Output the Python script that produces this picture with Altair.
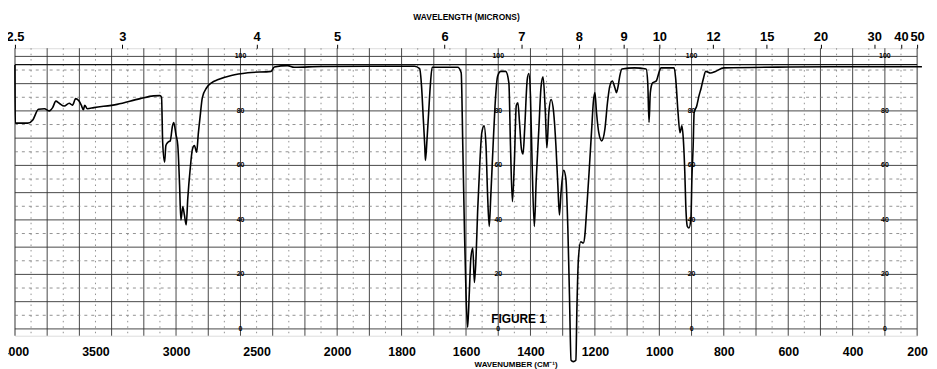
import altair as alt
import pandas as pd

# ---- data ----
wavenumber = [4000, 3998, 3920, 3889, 3854, 3817, 3786, 3766, 3746, 3725, 3694, 3663, 3643, 3623,
              3602, 3588, 3575, 3567, 3551, 3510, 3366, 3223, 3140, 3100, 3090, 3083, 3071, 3063,
              3050, 3036, 3022, 3014, 3001, 2989, 2978, 2970, 2958, 2948, 2937, 2927, 2912, 2898,
              2886, 2872, 2862, 2851, 2837, 2810, 2780, 2738, 2657, 2554, 2410, 2390, 2308, 2267,
              2100, 1900, 1760, 1744, 1738, 1733, 1728, 1726, 1721, 1716, 1711, 1705, 1626, 1615,
              1610, 1605, 1600, 1595, 1590, 1585, 1579, 1574, 1569, 1564, 1557, 1551, 1544, 1538,
              1533, 1528, 1523, 1516, 1510, 1502, 1492, 1477, 1467, 1462, 1456, 1450, 1444, 1439,
              1434, 1428, 1423, 1418, 1410, 1405, 1400, 1395, 1388, 1382, 1374, 1367, 1361, 1354,
              1349, 1343, 1336, 1328, 1321, 1315, 1310, 1305, 1297, 1290, 1284, 1279, 1274, 1267,
              1259, 1256, 1251, 1244, 1236, 1231, 1226, 1218, 1210, 1205, 1200, 1195, 1188, 1179,
              1169, 1161, 1154, 1146, 1138, 1133, 1128, 1123, 1116, 1077, 1041, 1036, 1032, 1028,
              1021, 1010, 1000, 995, 954, 949, 942, 936, 930, 925, 921, 918, 913, 908, 902, 899,
              895, 892, 884, 877, 870, 864, 856, 841, 826, 800, 600, 400, 185]
transmittance = [96.8, 75.5, 75.5, 76.7, 80.6, 80.8, 80.0, 81.2, 83.6, 82.8, 81.8, 82.8, 82.1, 84.5,
                 83.6, 82.1, 80.4, 82.1, 80.8, 81.2, 82.4, 84.5, 85.5, 85.6, 85.0, 68.5, 61.2, 67.3,
                 68.5, 69.0, 74.5, 75.7, 71.5, 67.3, 52.7, 40.0, 44.8, 41.8, 38.2, 48.0, 58.8, 66.0,
                 67.3, 64.8, 71.5, 77.6, 84.8, 88.5, 90.3, 91.5, 93.0, 94.0, 94.5, 96.1, 96.6, 96.0,
                 96.3, 96.4, 96.4, 95.5, 89.0, 78.0, 67.0, 61.8, 69.7, 79.4, 89.0, 96.0, 96.0, 94.0,
                 67.0, 37.0, 12.7, 0.6, 12.7, 26.0, 29.7, 17.0, 26.0, 43.0, 61.2, 72.0, 74.5, 67.3,
                 49.0, 37.6, 49.0, 67.3, 81.8, 92.7, 94.5, 94.5, 90.3, 67.3, 46.7, 61.0, 82.0, 83.0,
                 75.8, 66.0, 64.2, 73.3, 91.5, 93.7, 85.5, 61.2, 37.6, 55.0, 73.3, 89.0, 92.5, 80.0,
                 66.5, 79.4, 84.2, 79.4, 67.3, 52.7, 41.8, 50.3, 58.2, 55.0, 37.0, 12.7, -11.5, -12.0,
                 -11.5, 6.7, 26.0, 32.0, 31.5, 34.5, 43.0, 57.6, 73.3, 83.0, 86.7, 79.4, 72.0, 69.0,
                 73.3, 83.0, 89.0, 91.0, 88.5, 86.7, 89.0, 92.7, 95.4, 95.8, 95.4, 90.3, 75.8, 86.7,
                 90.3, 90.9, 94.5, 95.8, 95.8, 91.5, 79.4, 72.0, 74.5, 68.5, 57.6, 45.5, 37.6, 37.0, 40.6, 55.0,
                 67.3, 79.4, 81.8, 85.5, 88.5, 91.5, 94.5, 93.9, 94.5, 95.8, 96.1, 96.2, 96.2]

wn_tick_values = [4000, 3500, 3000, 2500, 2000, 1800, 1600, 1400, 1200, 1000, 800, 600, 400, 200]
micron_labels = [2.5, 3, 4, 5, 6, 7, 8, 9, 10, 12, 15, 20, 30, 40, 50]
pct_labels = [0, 20, 40, 60, 80, 100]
pct_label_columns = [2600, 1500, 900, 300]
figure_text = ["FIGURE 1"]
figure_wn = [1437]
figure_pct = [3.5]
reference_line_pct = [97]

# chart-paper grid (4000-2000 at half scale, 2000-200 full scale)
grid_v_solid = list(range(4000, 1999, -200)) + list(range(1900, 199, -100))
grid_v_dotted = list(range(3900, 2000, -200)) + list(range(1950, 200, -100))
grid_h_solid = list(range(0, 101, 10))
grid_h_dotted = list(range(5, 100, 10))

W, H = 910, 290
FONT = "Liberation Sans Narrow, Liberation Sans, sans-serif"

xscale = alt.Scale(domain=[4000, 2000, 200], range=[0, W * 1000 / 2800, W], nice=False, zero=False)
yscale = alt.Scale(domain=[-2.5, 103], nice=False, zero=False)

spec_df = pd.DataFrame({"wn": wavenumber, "t": transmittance, "i": range(len(wavenumber))})
micron_df = pd.DataFrame({"wn": [10000.0 / m for m in micron_labels]})
lab_df = pd.DataFrame([{"wn": c, "p": p, "txt": str(p)} for c in pct_label_columns for p in pct_labels])
fig_df = pd.DataFrame({"wn": figure_wn, "p": figure_pct, "txt": figure_text})

def vrules(vals, **kw):
    return alt.Chart(pd.DataFrame({"wn": vals})).mark_rule(**kw).encode(
        x=alt.X("wn:Q", scale=xscale, axis=None), y=alt.value(0), y2=alt.value(H))

def hrules(vals, **kw):
    return alt.Chart(pd.DataFrame({"p": vals})).mark_rule(**kw).encode(
        y=alt.Y("p:Q", scale=yscale, axis=None), x=alt.value(0), x2=alt.value(W))

gv_dot = vrules(grid_v_dotted, color="#777", strokeWidth=0.8, strokeDash=[1.5, 4])
gv_sol = vrules(grid_v_solid, color="#333", strokeWidth=0.9)
gh_dot = hrules(grid_h_dotted, color="#777", strokeWidth=0.8, strokeDash=[3, 4])
gh_sol = hrules(grid_h_solid, color="#333", strokeWidth=0.9)
ref_line = hrules(reference_line_pct, color="#111", strokeWidth=1.4)

inner_labels = alt.Chart(lab_df).mark_text(fontSize=7, font="Liberation Sans", fontWeight="bold",
                                           color="black").encode(
    x=alt.X("wn:Q", scale=xscale, axis=None),
    y=alt.Y("p:Q", scale=yscale, axis=None),
    text="txt:N")

fig_label = alt.Chart(fig_df).mark_text(fontSize=12, font="Liberation Sans", fontWeight="bold",
                                        color="black").encode(
    x=alt.X("wn:Q", scale=xscale, axis=None),
    y=alt.Y("p:Q", scale=yscale, axis=None),
    text="txt:N")

spectrum = alt.Chart(spec_df).mark_line(color="black", strokeWidth=1.6, interpolate="monotone",
                                        clip=False).encode(
    x=alt.X("wn:Q", scale=xscale,
            axis=alt.Axis(orient="bottom", values=wn_tick_values, format="d", labelFlush=False,
                          labelOverlap=False, labelBound=False, domain=False, ticks=False, tickSize=0,
                          grid=False, labelPadding=20, labelBaseline="alphabetic", labelFont=FONT,
                          labelFontSize=12.5, labelFontWeight="bold", labelColor="black",
                          title="WAVENUMBER (CM⁻¹)", titleFont="Liberation Sans", titleFontSize=8,
                          titleFontWeight="bold", titleColor="black", titleX=505, titleY=31,
                          titleBaseline="alphabetic")),
    y=alt.Y("t:Q", scale=yscale, axis=None),
    order="i:Q")

top_axis = alt.Chart(micron_df).mark_point(opacity=0).encode(
    x=alt.X("wn:Q", scale=xscale,
            axis=alt.Axis(orient="top", values=[10000.0 / m for m in micron_labels],
                          labelExpr="toString(round(100000 / datum.value) / 10)",
                          labelFlush=False, labelOverlap=False, labelBound=False, domain=False,
                          ticks=True, tickSize=4, tickColor="black", grid=False, labelPadding=4,
                          labelBaseline="alphabetic", labelFont=FONT, labelFontSize=13,
                          labelFontWeight="bold", labelColor="black",
                          title="WAVELENGTH (MICRONS)", titleFont="Liberation Sans", titleFontSize=8.5,
                          titleFontWeight="bold", titleColor="black", titleY=-29,
                          titleBaseline="alphabetic")),
    y=alt.value(0))

chart = alt.layer(gv_dot, gv_sol, gh_dot, gh_sol, ref_line, inner_labels, fig_label, spectrum,
                  top_axis).resolve_axis(x="independent").properties(
    width=W, height=H,
    autosize=alt.AutoSizeParams(type="none"),
    padding={"left": 7, "top": 39, "right": 12, "bottom": 32},
).configure_view(stroke="black", strokeWidth=1.3).configure(background="white")

chart.save("out.html", embed_options={"renderer": "svg", "actions": False})
